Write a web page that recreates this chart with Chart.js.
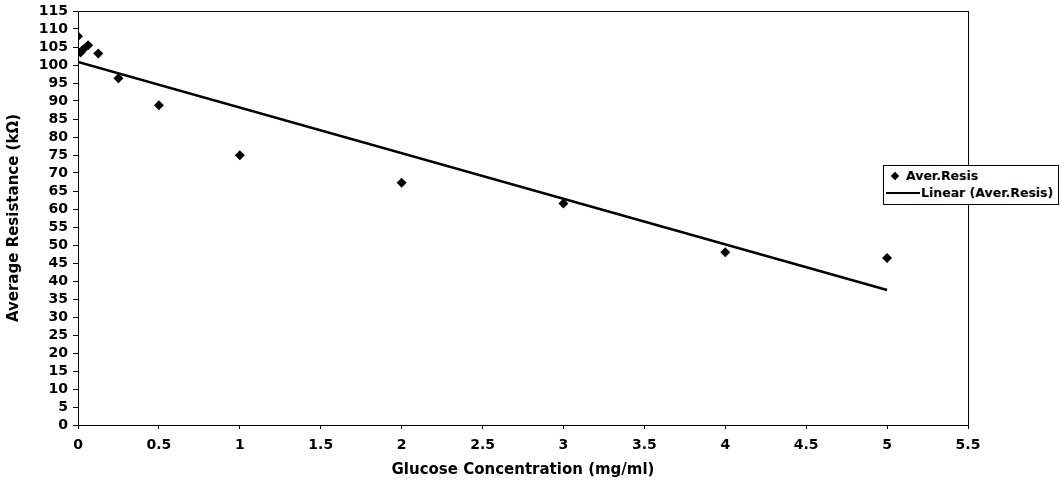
<!DOCTYPE html>
<html>
<head>
<meta charset="utf-8">
<script src="https://cdn.jsdelivr.net/npm/chart.js@4.4.0/dist/chart.umd.min.js"></script>
<style>
  html, body { margin: 0; padding: 0; background: #fff; }
  #wrap { position: relative; width: 1062px; height: 483px; }
  .legend {
    position: absolute; left: 883px; top: 165px; width: 174px; height: 38px;
    border: 1px solid #000; background: #fff;
    font: bold 12.5px "DejaVu Sans", sans-serif; color: #000;
  }
  .legend .row { position: absolute; left: 0; height: 16px; line-height: 16px; white-space: nowrap; }
  .legend .dia { position: absolute; left: 8px; top: 5px; width: 6px; height: 6px; background: #000; transform: rotate(45deg); }
  .legend .ln { position: absolute; left: 2px; top: 7px; width: 34px; height: 2px; background: #000; }
</style>
</head>
<body>
<div id="wrap">
  <canvas id="chart" width="1062" height="483"></canvas>
  <div class="legend">
    <div class="row" style="top:2px"><span class="dia"></span><span style="margin-left:22px">Aver.Resis</span></div>
    <div class="row" style="top:19px"><span class="ln"></span><span style="margin-left:37px">Linear (Aver.Resis)</span></div>
  </div>
</div>
<script>
const concentrations = [0, 0.015625, 0.03125, 0.0625, 0.125, 0.25, 0.5, 1, 2, 3, 4, 5];
const resistance     = [108, 103.5, 104.3, 105.5, 103.2, 96.3, 88.8, 74.9, 67.3, 61.5, 48, 46.4];
const xTitle = 'Glucose Concentration (mg/ml)';
const yTitle = 'Average Resistance (kΩ)';

// least-squares trendline, like the spreadsheet's "Linear" fit
const n  = concentrations.length;
const mx = concentrations.reduce((a, b) => a + b, 0) / n;
const my = resistance.reduce((a, b) => a + b, 0) / n;
let sxy = 0, sxx = 0;
concentrations.forEach((x, i) => { sxy += (x - mx) * (resistance[i] - my); sxx += (x - mx) * (x - mx); });
const slope = sxy / sxx;
const intercept = my - slope * mx;
const trendX = [0, 5];

const tickFont  = { family: '"DejaVu Sans", sans-serif', weight: 'bold', size: 14 };
const titleFont = { family: '"DejaVu Sans", sans-serif', weight: 'bold', size: 15 };

const plotBox = {
  id: 'plotBox',
  afterDatasetsDraw(chart) {
    const { ctx, chartArea: a } = chart;
    ctx.save();
    ctx.strokeStyle = '#000';
    ctx.lineWidth = 1;
    ctx.strokeRect(a.left + 0.5, a.top + 0.5, a.right - a.left, a.bottom - a.top);
    ctx.restore();
  }
};

new Chart(document.getElementById('chart'), {
  type: 'scatter',
  data: {
    datasets: [
      {
        label: 'Aver.Resis',
        data: concentrations.map((x, i) => ({ x, y: resistance[i] })),
        pointStyle: 'rectRot',
        pointRadius: 5,
        backgroundColor: '#000',
        borderColor: '#000',
        borderWidth: 0,
        order: 1
      },
      {
        label: 'Linear (Aver.Resis)',
        type: 'line',
        data: trendX.map(x => ({ x, y: intercept + slope * x })),
        borderColor: '#000',
        borderWidth: 2.5,
        pointRadius: 0,
        fill: false,
        order: 2
      }
    ]
  },
  options: {
    responsive: false,
    animation: false,
    layout: { padding: { top: 11, right: 94, left: 0, bottom: 0 } },
    plugins: { legend: { display: false }, tooltip: { enabled: false } },
    scales: {
      x: {
        type: 'linear',
        min: 0, max: 5.5,
        ticks: { stepSize: 0.5, color: '#000', font: tickFont, padding: 8, maxRotation: 0, autoSkip: false,
                 callback: v => String(v) },
        grid: { display: true, drawOnChartArea: false, drawTicks: true, tickLength: 4, color: '#000' },
        border: { display: true, color: '#000', width: 1 },
        title: { display: true, text: xTitle, color: '#000', font: titleFont, padding: { top: 6 } },
        afterFit: s => { s.height = 58; s.paddingLeft = 0; s.paddingRight = 0; }
      },
      y: {
        min: 0, max: 115,
        ticks: { stepSize: 5, color: '#000', font: tickFont, padding: 5, autoSkip: false },
        grid: { display: true, drawOnChartArea: false, drawTicks: true, tickLength: 5, color: '#000' },
        border: { display: true, color: '#000', width: 1 },
        title: { display: true, text: yTitle, color: '#000', font: titleFont, padding: { top: 5 } },
        afterFit: s => { s.width = 78; s.paddingTop = 0; s.paddingBottom = 0; }
      }
    }
  },
  plugins: [plotBox]
});
</script>
</body>
</html>
